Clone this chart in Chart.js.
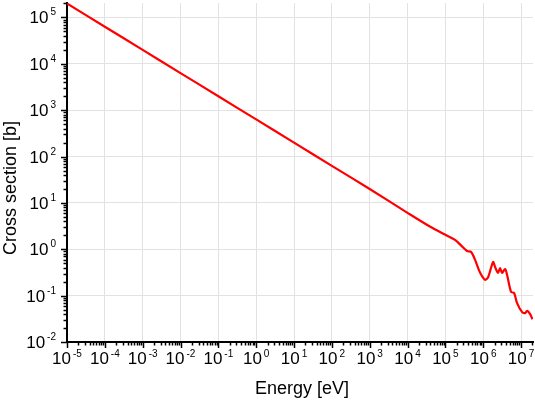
<!DOCTYPE html>
<html>
<head>
<meta charset="utf-8">
<script src="https://cdn.jsdelivr.net/npm/chart.js@4/dist/chart.umd.min.js"></script>
<style>
    html, body { margin: 0; padding: 0; background: #fff; }
    #wrap { width: 535px; height: 406px; position: relative; }
</style>
</head>
<body>
<div id="wrap"><canvas id="xsChart"></canvas></div>
<script>
// --- DATA ---
const energy = [1e-5, 1e-4, 1e-3, 1e-2, 1e-1, 1, 10, 100, 1e3, 1e4, 4e4, 1e5, 1.8e5, 2.7e5,
    3.75e5, 4.8e5, 6.1e5, 8.3e5, 1.12e6, 1.35e6, 1.82e6, 2.06e6, 2.47e6, 2.79e6, 3.15e6,
    3.78e6, 4.28e6, 5.45e6, 6.55e6, 7.86e6, 1.07e7, 1.28e7, 1.45e7, 1.74e7, 2.0e7];
const crossSection = [2e5, 6.3e4, 2e4, 6.3e3, 2e3, 632, 200, 63, 20, 6.1, 3.05, 2.05, 1.6, 1.17,
    0.92, 0.875, 0.59, 0.31, 0.22, 0.25, 0.53, 0.415, 0.31, 0.395, 0.31,
    0.376, 0.28, 0.12, 0.114, 0.069, 0.044, 0.042, 0.047, 0.040, 0.031];
const xExponents = [-5, -4, -3, -2, -1, 0, 1, 2, 3, 4, 5, 6, 7];
const yExponents = [-2, -1, 0, 1, 2, 3, 4, 5];
const xTitle = 'Energy [eV]';
const yTitle = 'Cross section [b]';

const FONT = '"Liberation Sans", Arial, Helvetica, sans-serif';

// only decades get grid lines, minor marks are drawn by the plugin below
function decadeTicks(exps) {
    return function (scale) {
        scale.ticks = exps.map(e => ({ value: Math.pow(10, e) }));
    };
}

// draws tick marks, 10^n labels and axis titles
const axisDecor = {
    id: 'axisDecor',
    afterDraw(chart) {
        const ctx = chart.ctx;
        const a = chart.chartArea;
        const x = chart.scales.x;
        const y = chart.scales.y;
        ctx.save();
        ctx.strokeStyle = '#000';
        ctx.lineWidth = 1.5;
        ctx.fillStyle = '#000';

        // x tick marks
        for (let i = 0; i < xExponents.length; i++) {
            for (let k = 1; k <= 9; k++) {
                const v = k * Math.pow(10, xExponents[i]);
                if (v > x.max) break;
                const px = Math.round(x.getPixelForValue(v)) + 0.5;
                ctx.beginPath();
                ctx.moveTo(px, a.bottom);
                ctx.lineTo(px, a.bottom + (k === 1 ? 6 : 3.5));
                ctx.stroke();
            }
        }
        // y tick marks
        for (let i = 0; i < yExponents.length; i++) {
            for (let k = 1; k <= 9; k++) {
                const v = k * Math.pow(10, yExponents[i]);
                if (v > y.max) break;
                const py = Math.round(y.getPixelForValue(v)) + 0.5;
                ctx.beginPath();
                ctx.moveTo(a.left, py);
                ctx.lineTo(a.left - (k === 1 ? 6 : 3.5), py);
                ctx.stroke();
            }
        }

        // tick labels with superscript exponent
        const bigFont = '17px ' + FONT;
        const supFont = '10px ' + FONT;
        const gap = 2;
        ctx.textAlign = 'left';
        ctx.textBaseline = 'alphabetic';
        xExponents.forEach(e => {
            const px = x.getPixelForValue(Math.pow(10, e));
            ctx.font = bigFont;
            const w10 = ctx.measureText('10').width;
            ctx.font = supFont;
            const wExp = ctx.measureText(String(e)).width;
            const start = px - (w10 + gap + wExp) / 2;
            ctx.font = bigFont;
            ctx.fillText('10', start, 364);
            ctx.font = supFont;
            ctx.fillText(String(e), start + w10 + gap, 357);
        });
        yExponents.forEach(e => {
            const py = y.getPixelForValue(Math.pow(10, e));
            ctx.font = supFont;
            const wExp = ctx.measureText(String(e)).width;
            ctx.textAlign = 'right';
            ctx.fillText(String(e), 56, py - 2);
            ctx.font = bigFont;
            ctx.fillText('10', 56 - wExp - gap, py + 6);
        });

        // axis titles
        ctx.font = '18px ' + FONT;
        ctx.textAlign = 'center';
        ctx.fillText(xTitle, (a.left + a.right) / 2 + 2, 394);
        ctx.save();
        ctx.translate(16, 188);
        ctx.rotate(-Math.PI / 2);
        ctx.fillText(yTitle, 0, 0);
        ctx.restore();

        ctx.restore();
    }
};

const ctx = document.getElementById('xsChart').getContext('2d');
new Chart(ctx, {
    type: 'line',
    data: {
        datasets: [{
            data: energy.map((e, i) => ({ x: e, y: crossSection[i] })),
            borderColor: '#ff0000',
            borderWidth: 2.2,
            pointRadius: 0,
            tension: 0.3,
            fill: false
        }]
    },
    options: {
        responsive: true,
        maintainAspectRatio: false,
        animation: false,
        layout: { padding: { left: 67, right: 2, top: 3, bottom: 64 } },
        plugins: { legend: { display: false }, tooltip: { enabled: false } },
        scales: {
            x: {
                type: 'logarithmic',
                min: 1e-5,
                max: 2.07e7,
                afterBuildTicks: decadeTicks(xExponents),
                ticks: { display: false },
                grid: { color: '#e2e2e2', lineWidth: 1, drawTicks: false },
                border: { display: true, color: '#000', width: 2 }
            },
            y: {
                type: 'logarithmic',
                min: 0.01,
                max: 2.05e5,
                afterBuildTicks: decadeTicks(yExponents),
                ticks: { display: false },
                grid: { color: '#e2e2e2', lineWidth: 1, drawTicks: false },
                border: { display: true, color: '#000', width: 2 }
            }
        }
    },
    plugins: [axisDecor]
});
</script>
</body>
</html>
